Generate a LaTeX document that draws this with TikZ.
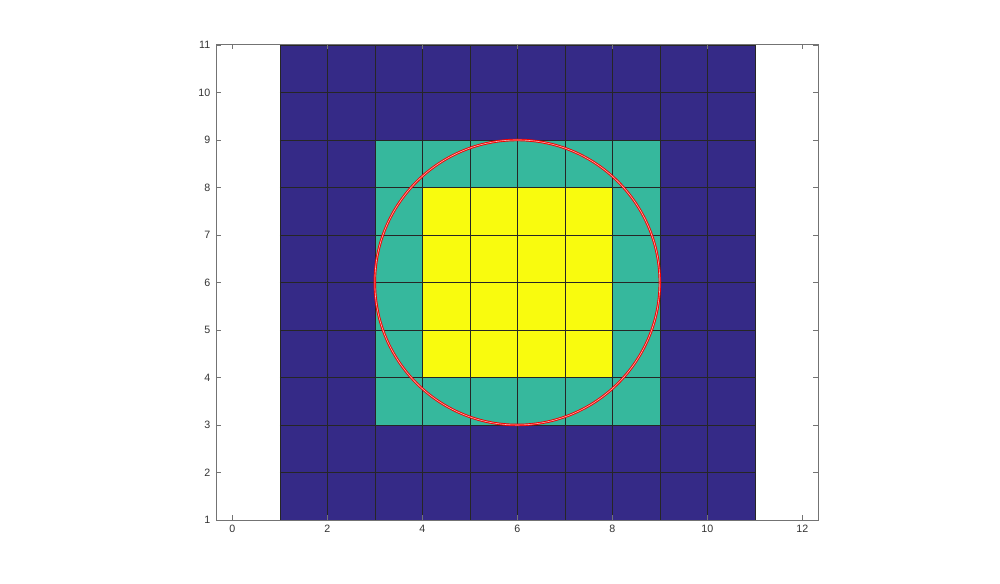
\documentclass[tikz,border=0pt]{standalone}
\usepackage{fontspec}
\setmainfont{Liberation Sans}
\begin{document}
\begin{tikzpicture}[x=35.625pt,y=35.625pt,
  ticklab/.style={font=\fontsize{8pt}{9.5pt}\selectfont, text=black!80, inner sep=0pt},
  tickmark/.style={draw=black!55, line width=0.5pt},
  gridline/.style={draw=black!85, line width=0.4pt}]
\definecolor{pblue}{RGB}{53,42,135}
\definecolor{pteal}{RGB}{54,184,157}
\definecolor{pyellow}{RGB}{249,251,14}
\useasboundingbox (-4.891,-0.347) rectangle (16.162,11.947);
\fill[white] (-4.891,-0.347) rectangle (16.162,11.947);
% patches
\fill[pblue] (1,1) rectangle (11,11);
\fill[pteal] (3,3) rectangle (9,9);
\fill[pyellow] (4,4) rectangle (8,8);
% grid
\foreach \i in {1,...,11} {
  \draw[gridline] (\i,1) -- (\i,11);
  \draw[gridline] (1,\i) -- (11,\i);
}
% circle
\node[circle, minimum size=6*35.625pt, inner sep=0pt, draw=red!95!black, line width=0.7pt, double=red!30, double distance=0.45pt] (c) at (6,6) {};
% axes box
\coordinate (bl) at (-0.333,1);
\coordinate (tr) at (12.333,11.015);
\draw[draw=black!55, line width=0.5pt] (bl) rectangle (tr);
% x ticks
\foreach \v in {0,2,...,12} {
  \draw[tickmark] (\v,1) -- (\v,1.1);
  \draw[tickmark] (\v,11.015) -- (\v,10.915);
  \node[ticklab, anchor=north] (xl\v) at (\v,0.9) {\v};
}
% y ticks
\foreach \v in {1,...,11} {
  \draw[tickmark] (-0.333,\v) -- (-0.233,\v);
  \draw[tickmark] (12.333,\v) -- (12.233,\v);
  \node[ticklab, anchor=east] (yl\v) at (-0.46,\v) {\v};
}
\end{tikzpicture}
\end{document}
